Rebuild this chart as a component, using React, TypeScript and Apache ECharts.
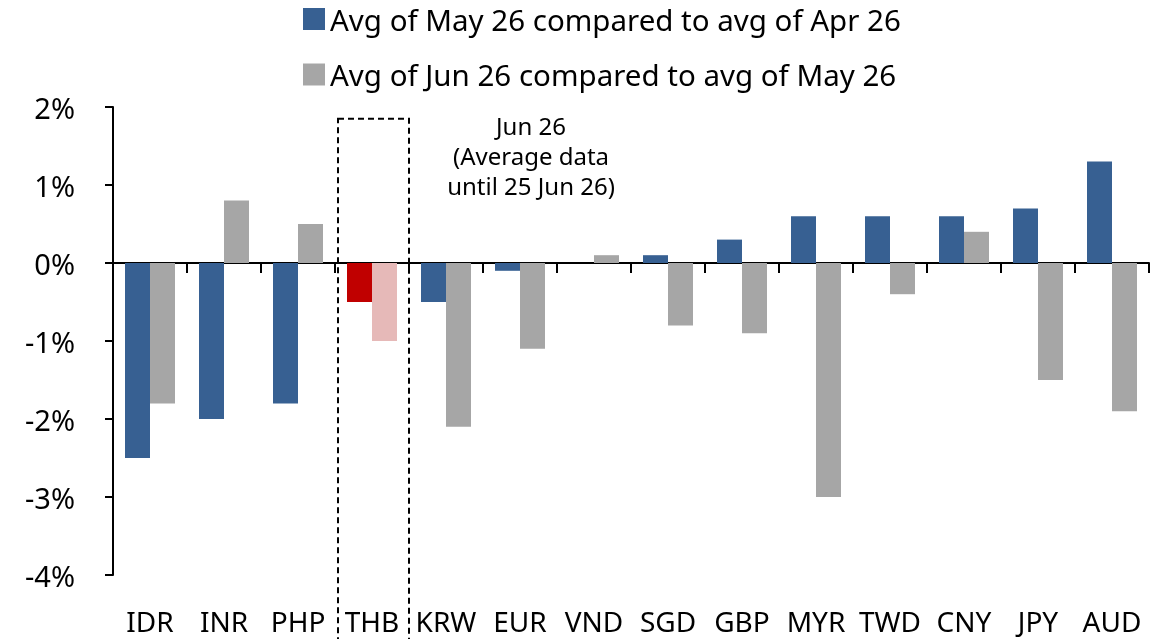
import React, { useEffect, useRef } from "react";
import * as echarts from "echarts";

const categories = ["IDR", "INR", "PHP", "THB", "KRW", "EUR", "VND", "SGD", "GBP", "MYR", "TWD", "CNY", "JPY", "AUD"];
const mayVsApr = [-2.5, -2.0, -1.8, -0.5, -0.5, -0.1, 0, 0.1, 0.3, 0.6, 0.6, 0.6, 0.7, 1.3];
const junVsMay = [-1.8, 0.8, 0.5, -1.0, -2.1, -1.1, 0.1, -0.8, -0.9, -3.0, -0.4, 0.4, -1.5, -1.9];
const seriesNames = ["Avg of May 26 compared to avg of Apr 26", "Avg of Jun 26 compared to avg of May 26"];
const highlight = "THB";
const annotationLines = ["Jun 26", "(Average data", "until 25 Jun 26)"];

const FONT = "Noto Sans";
const BLUE = "#376092";
const GRAY = "#A6A6A6";
const RED = "#C00000";
const PINK = "#E6B9B8";

export default function App() {
  const ref = useRef<HTMLDivElement>(null);
  useEffect(() => {
    if (!ref.current) return;
    const chart = echarts.init(ref.current, undefined, { renderer: "svg" });
    const hi = categories.indexOf(highlight);
    const option: any = {
      animation: false,
      textStyle: { fontFamily: FONT, color: "#000" },
      legend: {
        orient: "vertical",
        left: 298,
        top: -1,
        itemWidth: 22,
        itemHeight: 22,
        itemGap: 25.5,
        icon: "rect",
        textStyle: { fontFamily: FONT, fontSize: 29.5, lineHeight: 30, color: "#000" },
        data: seriesNames,
      },
      grid: { left: 113, right: 12, top: 107, bottom: 64 },
      xAxis: [
        {
          type: "category",
          data: categories,
          position: "bottom",
          axisLine: { show: false },
          axisTick: { show: false },
          axisLabel: { interval: 0, fontFamily: FONT, fontSize: 28, lineHeight: 28, color: "#000", margin: 32 },
        },
        {
          type: "category",
          data: categories,
          position: "bottom",
          axisLine: { show: true, onZero: true, onZeroAxisIndex: 0, lineStyle: { color: "#000", width: 2 } },
          axisTick: { show: true, inside: false, length: 10, lineStyle: { color: "#000", width: 2 } },
          axisLabel: { show: false },
        },
      ],
      yAxis: {
        type: "value",
        min: -4,
        max: 2,
        interval: 1,
        axisLine: { show: true, lineStyle: { color: "#000", width: 2 } },
        axisTick: { show: true, length: 8, lineStyle: { color: "#000", width: 2 } },
        splitLine: { show: false },
        axisLabel: { fontFamily: FONT, fontSize: 29, color: "#000", margin: 38, formatter: "{value}%" },
      },
      series: [
        {
          name: seriesNames[0],
          type: "bar",
          xAxisIndex: 0,
          barWidth: 25,
          barGap: "0%",
          itemStyle: { color: BLUE },
          data: mayVsApr.map((v, i) => (i === hi ? { value: v, itemStyle: { color: RED } } : v)),
        },
        {
          name: seriesNames[1],
          type: "bar",
          xAxisIndex: 0,
          barWidth: 25,
          barGap: "0%",
          itemStyle: { color: GRAY },
          data: junVsMay.map((v, i) => (i === hi ? { value: v, itemStyle: { color: PINK } } : v)),
        },
      ],
    };
    chart.setOption(option);

    const cx = chart.convertToPixel({ xAxisIndex: 0 }, highlight) as number;
    const cx2 = chart.convertToPixel({ xAxisIndex: 0 }, categories[hi + 1]) as number;
    const bw = cx2 - cx;
    const topY = chart.convertToPixel({ yAxisIndex: 0 }, 1.85) as number;
    const annX = chart.convertToPixel({ xAxisIndex: 0 }, categories[hi + 2]) as number;
    const left = cx - bw / 2 + 3;
    const right = cx + bw / 2;
    chart.setOption({
      graphic: [
        {
          type: "rect",
          shape: { x: left, y: topY, width: right - left, height: 700 - topY },
          style: { fill: "none", stroke: "#000", lineWidth: 2, lineDash: [6, 4] },
          z: 10,
        },
        {
          type: "text",
          x: annX + 11,
          y: topY - 8,
          style: {
            text: annotationLines.join("\n"),
            fontFamily: FONT,
            fontSize: 24,
            lineHeight: 30,
            fill: "#000",
            align: "center",
            verticalAlign: "top",
          },
        },
      ],
    });
    return () => chart.dispose();
  }, []);
  return <div ref={ref} style={{ position: "fixed", left: 0, top: 0, width: 1161, height: 639 }} />;
}
